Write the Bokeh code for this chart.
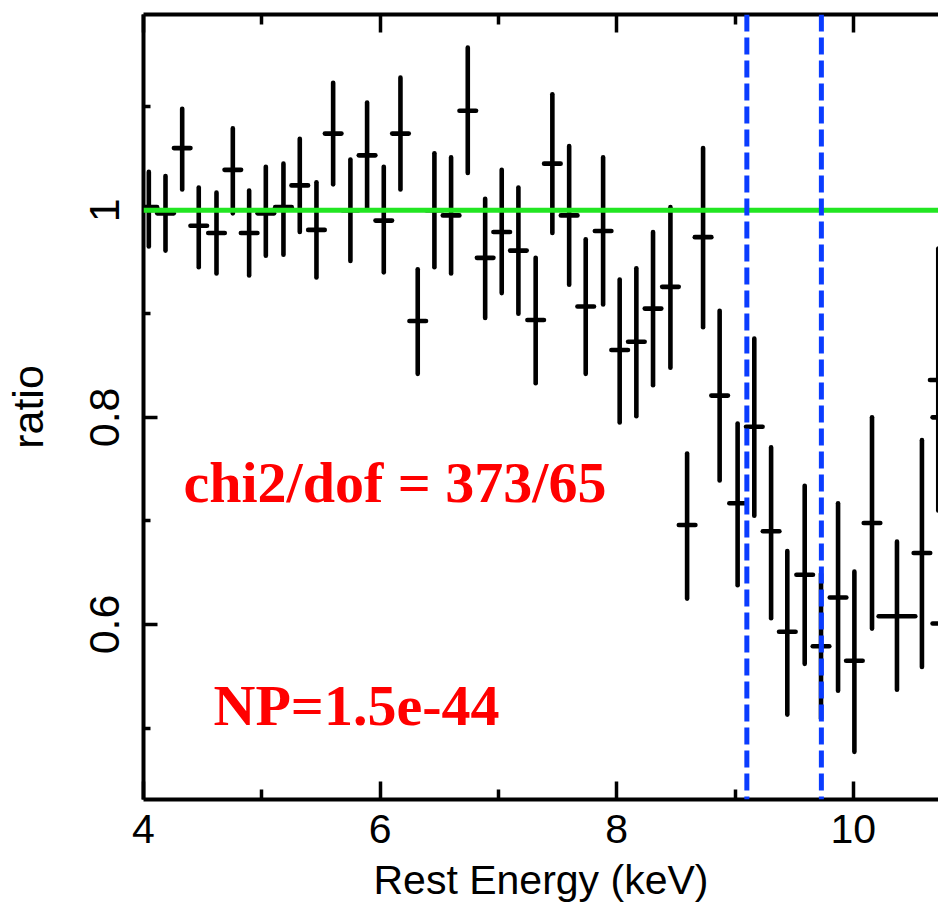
from bokeh.plotting import figure
from bokeh.models import (Range1d, LinearAxis, FixedTicker, Label, Span,
                          CustomJSTickFormatter, ColumnDataSource)
from bokeh.embed import file_html
from bokeh.resources import INLINE

# ---- data -------------------------------------------------------------
energy = [4.045, 4.186, 4.327, 4.467, 4.617, 4.755, 4.893, 5.034, 5.183, 5.321,
          5.462, 5.603, 5.749, 5.890, 6.031, 6.172, 6.318, 6.459, 6.600, 6.741,
          6.888, 7.028, 7.169, 7.315, 7.456, 7.598, 7.738, 7.885, 8.025, 8.166,
          8.307, 8.454, 8.595, 8.730, 8.870, 9.022, 9.163, 9.305, 9.442, 9.589,
          9.727, 9.871, 10.009, 10.158, 10.369, 10.580, 10.718, 10.81, 10.81]
energy_halfwidth = [0.070] * 44 + [0.155, 0.070, 0.070, 0.14, 0.14]
ratio = [1.003, 0.997, 1.060, 0.985, 0.978, 1.039, 0.978, 0.997, 1.003, 1.024,
         0.981, 1.074, 1.000, 1.053, 0.990, 1.074, 0.893, 1.000, 0.995, 1.096,
         0.954, 0.979, 0.961, 0.894, 1.045, 0.995, 0.907, 0.980, 0.865, 0.873,
         0.905, 0.926, 0.696, 0.974, 0.821, 0.717, 0.791, 0.690, 0.593, 0.648,
         0.579, 0.626, 0.565, 0.698, 0.608, 0.669, 0.836, 0.800, 0.601]
ratio_low = [0.965, 0.961, 1.020, 0.945, 0.939, 0.997, 0.937, 0.956, 0.957, 0.979,
             0.935, 1.025, 0.951, 1.002, 0.940, 1.020, 0.842, 0.945, 0.939, 1.036,
             0.896, 0.920, 0.900, 0.833, 0.978, 0.928, 0.842, 0.909, 0.795, 0.801,
             0.831, 0.848, 0.625, 0.887, 0.739, 0.638, 0.705, 0.606, 0.513, 0.562,
             0.509, 0.536, 0.477, 0.596, 0.537, 0.559, 0.710, 0.500, 0.500]
ratio_high = [1.037, 1.033, 1.098, 1.022, 1.017, 1.079, 1.019, 1.042, 1.045, 1.069,
              1.027, 1.123, 1.049, 1.104, 1.042, 1.128, 0.943, 1.055, 1.051, 1.157,
              1.011, 1.039, 1.022, 0.954, 1.112, 1.062, 0.972, 1.051, 0.933, 0.944,
              0.979, 1.003, 0.765, 1.060, 0.903, 0.794, 0.876, 0.771, 0.671, 0.734,
              0.649, 0.717, 0.651, 0.800, 0.680, 0.778, 0.963, 1.099, 0.700]

model_ratio = 1.0
line_energies = [9.10, 9.73]
x_major_ticks = [4, 6, 8, 10]
x_minor_ticks = [5, 7, 9, 11]
y_major_ticks = [0.6, 0.8, 1.0]
y_minor_ticks = [0.5, 0.7, 0.9, 1.1]
x_title = "Rest Energy (keV)"
y_title = "ratio"
fit_text = "chi2/dof = 373/65"
np_text = "NP=1.5e-44"

# ---- figure -----------------------------------------------------------
p = figure(width=938, height=909, output_backend="svg", toolbar_location=None,
           x_range=Range1d(4.0, 10.72), y_range=Range1d(0.431, 1.189))
p.min_border = 0
p.min_border_left = 143
p.min_border_top = 14
p.min_border_right = 0
p.min_border_bottom = 110
p.outline_line_color = None
p.grid.visible = False
p.background_fill_color = "white"
p.border_fill_color = "white"

FONT = "Liberation Sans"

xa = p.xaxis[0]
xa.ticker = FixedTicker(ticks=x_major_ticks, minor_ticks=x_minor_ticks)
xa.axis_label = x_title
ya = p.yaxis[0]
ya.ticker = FixedTicker(ticks=y_major_ticks, minor_ticks=y_minor_ticks)
ya.axis_label = y_title
ya.formatter = CustomJSTickFormatter(
    code="return Math.abs(tick - 1) < 1e-9 ? '1' : tick.toFixed(1);")
ya.major_label_orientation = "vertical"

# top frame edge with ticks, no labels
top = LinearAxis(ticker=FixedTicker(ticks=x_major_ticks, minor_ticks=x_minor_ticks),
                 formatter=CustomJSTickFormatter(code="return '';"),
                 major_label_text_font_size="1px", major_label_standoff=0)
p.add_layout(top, "above")

for ax in (xa, top):
    ax.major_tick_in = 18
    ax.major_tick_out = 0
    ax.minor_tick_in = 10
    ax.minor_tick_out = 0
for ax in (ya,):
    ax.major_tick_in = 14
    ax.major_tick_out = 0
    ax.minor_tick_in = 7
    ax.minor_tick_out = 0

for ax in (xa, ya, top):
    ax.axis_line_width = 4
    ax.axis_line_color = "black"
    ax.major_tick_line_width = 3.5
    ax.minor_tick_line_width = 3.5
    ax.major_tick_line_color = "black"
    ax.minor_tick_line_color = "black"
    ax.major_label_text_font = FONT
    ax.major_label_text_color = "black"
    ax.axis_label_text_font = FONT
    ax.axis_label_text_font_style = "normal"
    ax.axis_label_text_color = "black"

xa.major_label_text_font_size = "41px"
xa.axis_label_text_font_size = "41px"
xa.major_label_standoff = 15
xa.axis_label_standoff = 11
ya.major_label_text_font_size = "43px"
ya.axis_label_text_font_size = "43px"
ya.major_label_standoff = 24
ya.axis_label_standoff = 36

# ---- error bars ----------------------------------------------------------
src = ColumnDataSource(dict(
    x=energy,
    x_lo=[e - w for e, w in zip(energy, energy_halfwidth)],
    x_hi=[e + w for e, w in zip(energy, energy_halfwidth)],
    y=ratio, y_lo=ratio_low, y_hi=ratio_high))
p.segment(x0="x", y0="y_lo", x1="x", y1="y_hi", source=src,
          line_color="black", line_width=4.6, line_cap="round")
p.segment(x0="x_lo", y0="y", x1="x_hi", y1="y", source=src,
          line_color="black", line_width=4.6, line_cap="round")

# ---- model line and line energies --------------------------------------------
p.add_layout(Span(location=model_ratio, dimension="width",
                  line_color="#22e622", line_width=5))
for e in line_energies:
    p.add_layout(Span(location=e, dimension="height", line_color="#0a3cff",
                      line_width=5, line_dash="17 6"))

# ---- annotations ---------------------------------------------------------
p.add_layout(Label(x=4.338, y=0.737, text=fit_text, text_color="red",
                   text_font="Liberation Serif", text_font_style="bold",
                   text_font_size="58px", text_baseline="alphabetic",
                   text_align="left"))
p.add_layout(Label(x=4.592, y=0.522, text=np_text, text_color="red",
                   text_font="Liberation Serif", text_font_style="bold",
                   text_font_size="58px", text_baseline="alphabetic",
                   text_align="left"))

open("out.html", "w").write(file_html(p, INLINE))
